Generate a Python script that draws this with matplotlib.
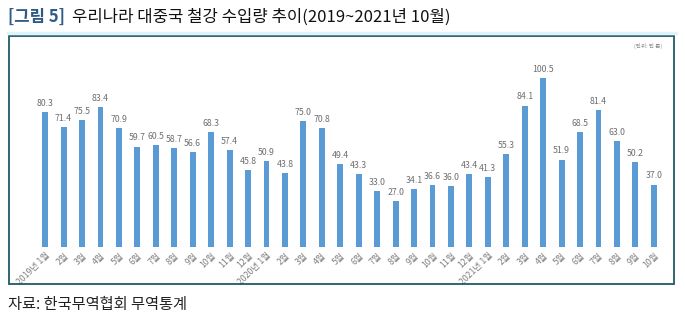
import matplotlib
matplotlib.use("Agg")
import matplotlib.pyplot as plt
from matplotlib.patches import Rectangle
from matplotlib.lines import Line2D

plt.rcParams['font.family'] = ['Noto Sans CJK KR', 'DejaVu Sans']

# Monthly steel imports from China (10,000 tonnes), Jan 2019 - Oct 2021
months = (["2019년 1월"] + [f"{m}월" for m in range(2, 13)]
          + ["2020년 1월"] + [f"{m}월" for m in range(2, 13)]
          + ["2021년 1월"] + [f"{m}월" for m in range(2, 11)])
values_2019 = [80.3, 71.4, 75.5, 83.4, 70.9, 59.7, 60.5, 58.7, 56.6, 68.3, 57.4, 45.8]
values_2020 = [50.9, 43.8, 75.0, 70.8, 49.4, 43.3, 33.0, 27.0, 34.1, 36.6, 36.0, 43.4]
values_2021 = [41.3, 55.3, 84.1, 100.5, 51.9, 68.5, 81.4, 63.0, 50.2, 37.0]
values = values_2019 + values_2020 + values_2021

W, H = 685, 323
fig = plt.figure(figsize=(W / 100, H / 100), dpi=100)

def fx(px):
    return px / W

def fy(py):
    return 1 - py / H

# plot area
left, right, top, bottom = 35, 664, 60, 246.7
ax = fig.add_axes([fx(left), fy(bottom), fx(right - left), (bottom - top) / H])
x = list(range(len(values)))
bars = ax.bar(x, values, width=0.32, color='#5B9BD5', zorder=2)
ax.bar_label(bars, labels=[f"{v:.1f}" for v in values], padding=3,
             fontsize=6.3, color='#6f6f6f')
ax.set_xlim(-0.55, len(values) - 0.45)
ax.set_ylim(0, 111.3)
ax.axhline(0, color='#d9d9d9', lw=0.8, zorder=1)
for s in ax.spines.values():
    s.set_visible(False)
ax.set_yticks([])
ax.set_xticks(x)
ax.set_xticklabels(months, rotation=45, ha='right', rotation_mode='anchor',
                   fontsize=6.3, color='#7f7f7f')
ax.tick_params(axis='x', length=0, pad=3)

# outer frame
fig.add_artist(Rectangle((fx(9), fy(284)), fx(674 - 9), (284 - 36) / H,
                         transform=fig.transFigure, fill=False,
                         edgecolor='#215968', lw=1.3))
# thin rule under the heading
fig.add_artist(Line2D([fx(8), fx(676)], [fy(33), fy(33)], transform=fig.transFigure,
                      color='#dff3fa', lw=2.5))

# heading
t1 = fig.text(fx(8), fy(17), "[그림 5]", fontsize=12, fontweight='bold',
              color='#2F5A84', va='center', ha='left')
ax.annotate("우리나라 대중국 철강 수입량 추이(2019~2021년 10월)", xy=(1, 0.5),
            xycoords=t1, xytext=(5, 0), textcoords='offset points',
            va='center', ha='left', fontsize=12, color='#111111',
            annotation_clip=False)

# unit note
fig.text(fx(662), fy(46), "(단위: 만 톤)", fontsize=4, color='#8a8a8a',
         ha='right', va='center')

# source
fig.text(fx(8), fy(305), "자료: 한국무역협회 무역통계", fontsize=11,
         color='#222222', ha='left', va='center')

fig.savefig("out.png", dpi=100)
